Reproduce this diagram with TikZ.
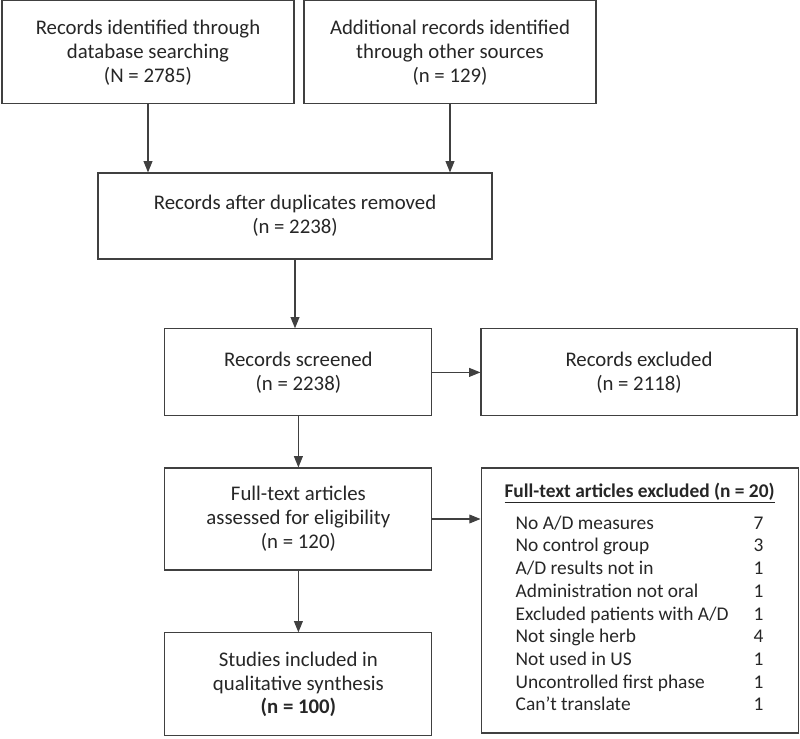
\documentclass[tikz,border=0pt]{standalone}
\usepackage{fontspec}
\setmainfont{Carlito}
\usepackage{tikz}
\usetikzlibrary{positioning, arrows.meta}

\tikzset{
  box/.style={draw=black!75, line width=0.8pt, align=center, text=black!85, font=\fontsize{14.8}{17}\selectfont, inner sep=0pt},
  flow/.style={draw=black!75, line width=0.8pt, -{Triangle[length=0.28cm, width=0.22cm]}},
}

\begin{document}
\begin{tikzpicture}
			\useasboundingbox (0,0) rectangle (20,-18.475);
			% top row
			\node[box, minimum width=7.3cm, minimum height=2.575cm] (ident) at (3.7,-1.31) {Records identified through\\database searching\\(N = 2785)};
			\node[box, minimum width=7.3cm, minimum height=2.575cm] (other) at (11.25,-1.31) {Additional records identified\\through other sources\\(n = 129)};
			\node[box, minimum width=9.85cm, minimum height=2.15cm] (dup) at (7.375,-5.4) {Records after duplicates removed\\(n = 2238)};
			% screening
			\node[box, minimum width=6.675cm, minimum height=2.175cm] (screen) at (7.46,-9.31) {Records screened\\(n = 2238)};
			\node[box, minimum width=7.9cm, minimum height=2.175cm] (rexcl) at (15.975,-9.31) {Records excluded\\(n = 2118)};
			% eligibility
			\node[box, minimum width=6.675cm, minimum height=2.55cm] (full) at (7.46,-12.975) {Full-text articles\\assessed for eligibility\\(n = 120)};
			\node[box, font=\fontsize{13.8}{17}\selectfont, minimum width=7.925cm, minimum height=6.625cm] (fexcl) at (15.99,-15.0125) {\underline{\textbf{Full-text articles excluded (n = 20)}}\\[6pt]
				\renewcommand{\arraystretch}{0.95}%
				\begin{tabular}{@{}p{5.95cm}@{}r@{}}
					No A/D measures & 7\\
					No control group & 3\\
					A/D results not in & 1\\
					Administration not oral & 1\\
					Excluded patients with A/D & 1\\
					Not single herb & 4\\
					Not used in US & 1\\
					Uncontrolled first phase & 1\\
					Can’t translate & 1
				\end{tabular}};
			\node[box, minimum width=6.675cm, minimum height=2.575cm] (incl) at (7.46,-17.11) {Studies included in\\qualitative synthesis\\\textbf{(n = 100)}};
			% arrows
			\draw[flow] (ident.south) -- (ident.south |- dup.north);
			\draw[flow] (other.south) -- (other.south |- dup.north);
			\draw[flow] (dup.south) -- (dup.south |- screen.north);
			\draw[flow] (screen.east) -- (rexcl.west);
			\draw[flow] (screen.south) -- (full.north);
			\draw[flow] (full.east) -- (full.east -| fexcl.west);
			\draw[flow] (full.south) -- (incl.north);
		\end{tikzpicture}
\end{document}
